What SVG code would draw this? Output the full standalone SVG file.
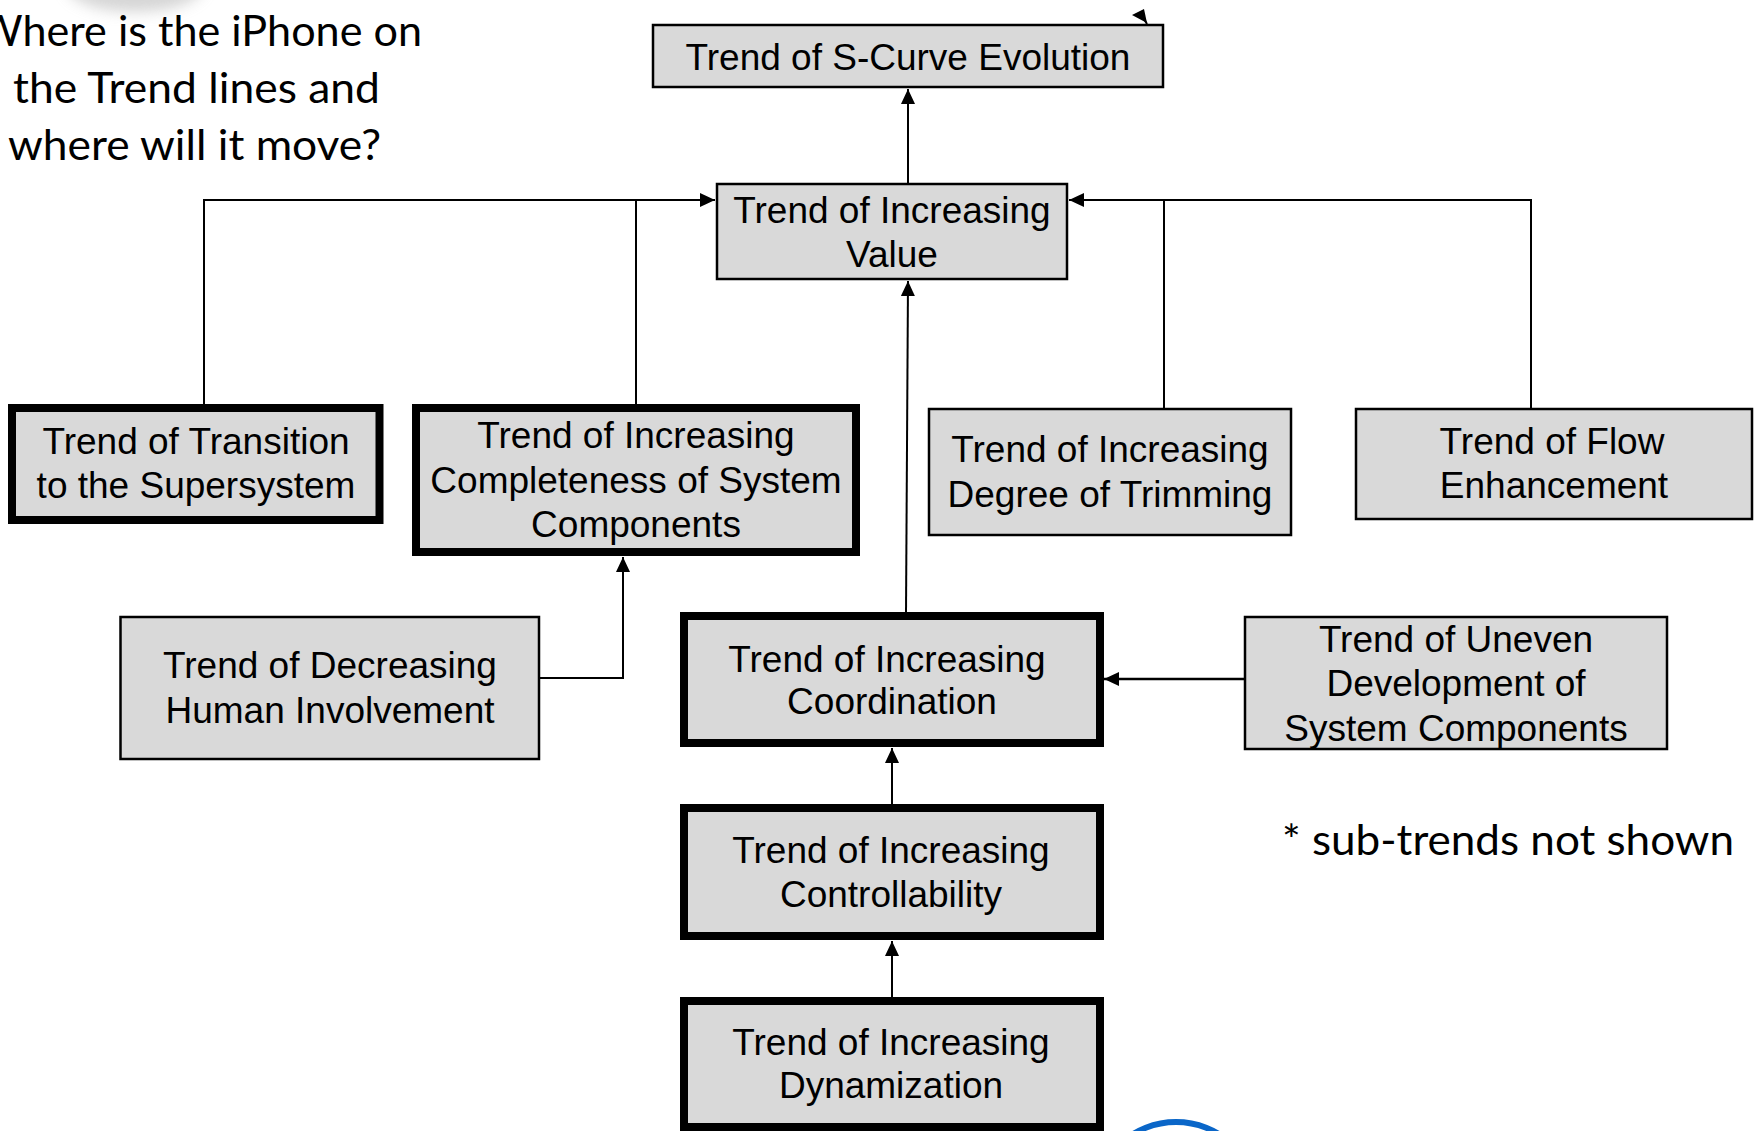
<svg xmlns="http://www.w3.org/2000/svg" width="1756" height="1131" viewBox="0 0 1756 1131">
<style>
.bg{fill:#ffffff}
.thin{fill:#d9d9d9;stroke:#000;stroke-width:2.5}
.thick{fill:#d9d9d9;stroke:#000;stroke-width:8}
.t{font-family:"Liberation Sans",Arial,sans-serif;font-size:37px;text-anchor:middle;fill:#000}
.q{font-family:Lato,"Open Sans",sans-serif;font-size:43px;fill:#000}
.c{fill:none;stroke:#000;stroke-width:2}
</style>
<defs>
<marker id="arr" markerUnits="userSpaceOnUse" markerWidth="16" markerHeight="14" refX="15" refY="7" orient="auto">
<path d="M0,0 L15,7 L0,14 z" fill="#000"/>
</marker>
<filter id="blur" x="-50%" y="-50%" width="200%" height="200%"><feGaussianBlur stdDeviation="7"/></filter>
</defs>
<rect class="bg" x="0" y="0" width="1756" height="1131"/>
<ellipse cx="135" cy="-14" rx="68" ry="26" fill="#c4c4c4" opacity="0.7" filter="url(#blur)"/>

<g id="question">
<text class="q" x="-22" y="46" textLength="444" lengthAdjust="spacingAndGlyphs">Where is the iPhone on</text>
<text class="q" x="13" y="103" textLength="367" lengthAdjust="spacingAndGlyphs">the Trend lines and</text>
<text class="q" x="8" y="160" textLength="373" lengthAdjust="spacingAndGlyphs">where will it move?</text>
</g>

<g id="connectors">
<line class="c" x1="908" y1="183" x2="908" y2="89" marker-end="url(#arr)"/>
<polyline class="c" points="204,404 204,200 715,200" marker-end="url(#arr)"/>
<line class="c" x1="636" y1="404" x2="636" y2="200"/>
<polyline class="c" points="1531,408 1531,200 1069,200" marker-end="url(#arr)"/>
<line class="c" x1="1164" y1="408" x2="1164" y2="200"/>
<line class="c" x1="906" y1="612" x2="908" y2="281" marker-end="url(#arr)"/>
<polyline class="c" points="540,678 623,678 623,557" marker-end="url(#arr)"/>
<line class="c" style="stroke-width:2.5" x1="1244" y1="679" x2="1104" y2="679" marker-end="url(#arr)"/>
<line class="c" x1="892" y1="804" x2="892" y2="748" marker-end="url(#arr)"/>
<line class="c" x1="892" y1="997" x2="892" y2="941" marker-end="url(#arr)"/>
<line class="c" x1="1147" y1="24" x2="1144" y2="19"/>
<polygon points="1132,15 1144,9 1147,23" fill="#000"/>
</g>

<g id="n-scurve">
<rect class="thin" x="653" y="25" width="510" height="62"/>
<text class="t" x="908" y="69.5">Trend of S-Curve Evolution</text>
</g>

<g id="n-value">
<rect class="thin" x="717" y="184" width="350" height="95"/>
<text class="t" x="892" y="222.7">Trend of Increasing</text>
<text class="t" x="892" y="266.7">Value</text>
</g>

<g id="n-transition">
<rect class="thick" x="12" y="408" width="367.5" height="112"/>
<text class="t" x="196" y="454">Trend of Transition</text>
<text class="t" x="196" y="498.3">to the Supersystem</text>
</g>

<g id="n-completeness">
<rect class="thick" x="416" y="408" width="440" height="144"/>
<text class="t" x="636" y="448">Trend of Increasing</text>
<text class="t" x="636" y="492.5">Completeness of System</text>
<text class="t" x="636" y="537">Components</text>
</g>

<g id="n-trimming">
<rect class="thin" x="929" y="409" width="362" height="126"/>
<text class="t" x="1110" y="461.7">Trend of Increasing</text>
<text class="t" x="1110" y="506.7">Degree of Trimming</text>
</g>

<g id="n-flow">
<rect class="thin" x="1356" y="409" width="396" height="110"/>
<text class="t" x="1552" y="454">Trend of Flow</text>
<text class="t" x="1554" y="498.3">Enhancement</text>
</g>

<g id="n-human">
<rect class="thin" x="120.5" y="617" width="418.5" height="142"/>
<text class="t" x="330" y="678.3">Trend of Decreasing</text>
<text class="t" x="330" y="723.3">Human Involvement</text>
</g>

<g id="n-coordination">
<rect class="thick" x="684" y="616" width="416" height="127"/>
<text class="t" x="887" y="671.7">Trend of Increasing</text>
<text class="t" x="892" y="714">Coordination</text>
</g>

<g id="n-uneven">
<rect class="thin" x="1245" y="617" width="422" height="132"/>
<text class="t" x="1456" y="651.7">Trend of Uneven</text>
<text class="t" x="1456" y="696">Development of</text>
<text class="t" x="1456" y="741">System Components</text>
</g>

<g id="n-controllability">
<rect class="thick" x="684" y="808" width="416" height="128"/>
<text class="t" x="891" y="863.3">Trend of Increasing</text>
<text class="t" x="891" y="906.7">Controllability</text>
</g>

<g id="n-dynamization">
<rect class="thick" x="684" y="1001" width="416" height="126"/>
<text class="t" x="891" y="1055">Trend of Increasing</text>
<text class="t" x="891" y="1098.3">Dynamization</text>
</g>

<g id="note">
<text class="q" x="1282" y="855" textLength="452" lengthAdjust="spacingAndGlyphs">* sub-trends not shown</text>
</g>

<circle cx="1176" cy="1204" r="82" fill="none" stroke="#0a66c8" stroke-width="6"/>
</svg>
